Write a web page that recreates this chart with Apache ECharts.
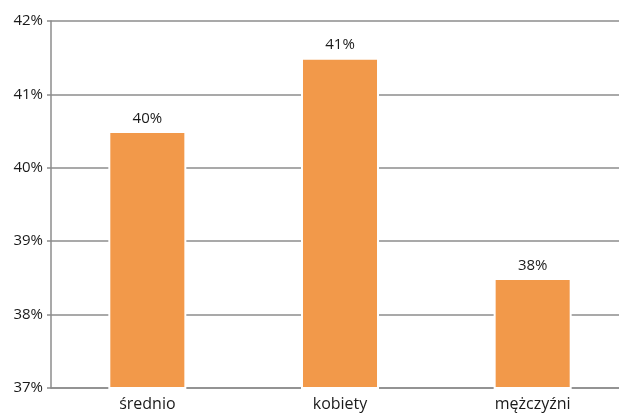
<!DOCTYPE html>
<html>
<head>
<meta charset="utf-8">
<script src="https://cdn.jsdelivr.net/npm/echarts@6/dist/echarts.min.js"></script>
<style>html,body{margin:0;padding:0;background:#fff;overflow:hidden;}#c{width:629px;height:414px;}</style>
</head>
<body>
<div id="c"></div>
<script>
var categories = ["średnio", "kobiety", "mężczyźni"];
var values = [40.5, 41.5, 38.5];
var valueLabels = ["40%", "41%", "38%"];
var yTicks = [37, 38, 39, 40, 41, 42];

var chart = echarts.init(document.getElementById('c'), null, {renderer: 'canvas'});
var font = '"Open Sans", "Liberation Sans", sans-serif';
chart.setOption({
  animation: false,
  grid: {left: 51, right: 0, top: 21, bottom: 26, containLabel: false},
  xAxis: {
    type: 'category',
    data: categories,
    axisLine: {lineStyle: {color: '#8c8c8c', width: 1.5}},
    axisTick: {show: false},
    axisLabel: {color: '#1a1a1a', fontSize: 16, fontFamily: font, margin: 8}
  },
  yAxis: {
    type: 'value',
    min: yTicks[0],
    max: yTicks[yTicks.length - 1],
    interval: 1,
    axisLine: {show: true, lineStyle: {color: '#8c8c8c', width: 1.5}},
    axisTick: {show: true, length: 4, lineStyle: {color: '#8c8c8c', width: 1.5}},
    axisLabel: {color: '#1a1a1a', fontSize: 15, fontFamily: font, margin: 8,
      formatter: function (v) { return v + '%'; }},
    splitLine: {lineStyle: {color: '#8c8c8c', width: 1.5}}
  },
  series: [{
    type: 'bar',
    data: values,
    barWidth: '40.5%',
    itemStyle: {color: '#F2994A', borderColor: '#ffffff', borderWidth: 2},
    label: {
      show: true, position: 'top', distance: 5,
      color: '#1a1a1a', fontSize: 15, fontFamily: font,
      formatter: function (p) { return valueLabels[p.dataIndex]; }
    }
  }]
});
</script>
</body>
</html>
